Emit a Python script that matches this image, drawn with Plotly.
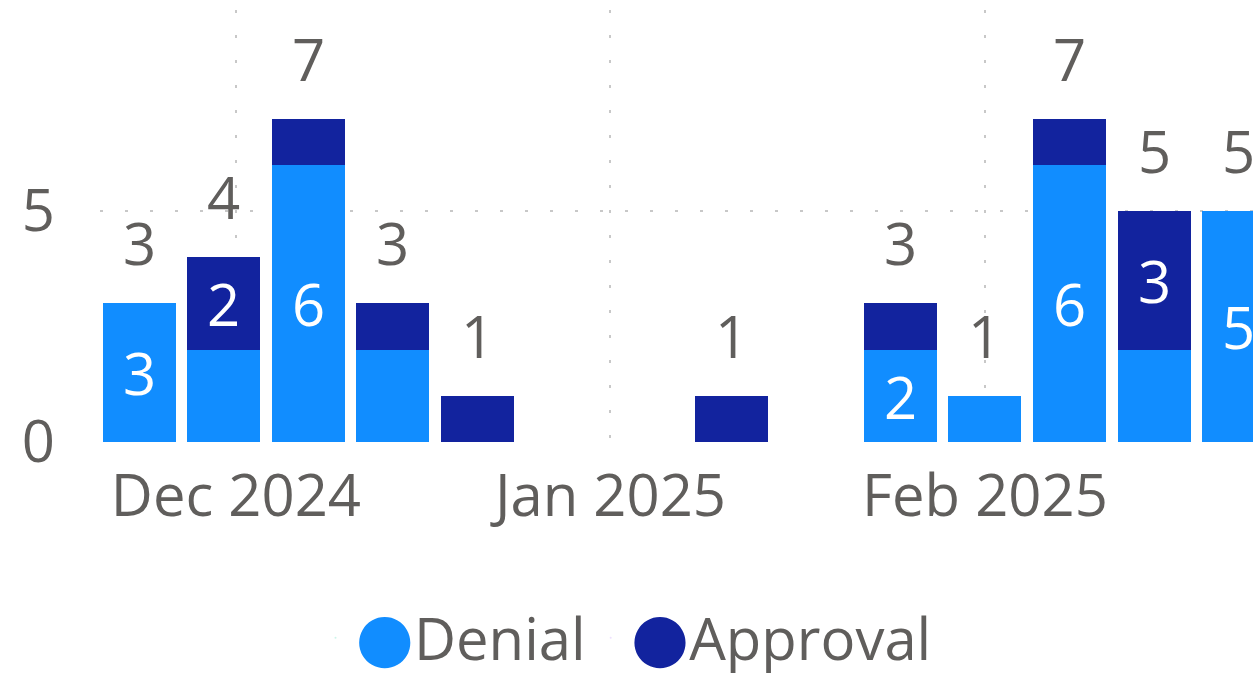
import plotly.graph_objects as go

# ---- data ----
weeks = ["2024-11-23", "2024-11-30", "2024-12-07", "2024-12-14", "2024-12-21",
         "2025-01-11", "2025-01-25", "2025-02-01", "2025-02-08", "2025-02-15", "2025-02-22"]
denial = [3, 2, 6, 2, 0, 0, 2, 1, 6, 2, 5]
approval = [0, 2, 1, 1, 1, 1, 1, 0, 1, 3, 0]
denial_labels = ["3", "", "6", "", "", "", "2", "", "6", "", "5"]
approval_labels = ["", "2", "", "", "", "", "", "", "", "3", ""]
totals = [d + a for d, a in zip(denial, approval)]
y_ticks = [0, 5]

# ---- style ----
FONT = "Open Sans, Segoe UI, sans-serif"
FS = 58
TXT = "#605E5C"
C_DEN = "#118DFF"
C_APP = "#12239E"
DAY_MS = 86400000
BAR_W = 6.04 * DAY_MS

fig = go.Figure()
fig.add_trace(go.Bar(
    x=weeks, y=denial, name="Denial", marker=dict(color=C_DEN, line=dict(width=0)), width=BAR_W,
    text=denial_labels, textposition="inside", insidetextanchor="middle",
    textangle=0, constraintext="none",
    insidetextfont=dict(family=FONT, size=FS, color="white"),
    showlegend=False, hoverinfo="skip"))
fig.add_trace(go.Bar(
    x=weeks, y=approval, name="Approval", marker=dict(color=C_APP, line=dict(width=0)), width=BAR_W,
    text=approval_labels, textposition="inside", insidetextanchor="middle",
    textangle=0, constraintext="none",
    insidetextfont=dict(family=FONT, size=FS, color="white"),
    showlegend=False, hoverinfo="skip"))

# legend entries with large round bullets
for name, col in [("Denial", C_DEN), ("Approval", C_APP)]:
    fig.add_trace(go.Scatter(
        x=[None], y=[None], mode="markers", marker=dict(opacity=0, size=1),
        name=f"<span style='font-family:DejaVu Sans;font-size:67px;color:{col}'>●</span>{name}",
        showlegend=True))

# total labels
for w, t in zip(weeks, totals):
    fig.add_annotation(x=w, y=t, text=str(t), showarrow=False, yanchor="bottom",
                       yshift=19, font=dict(family=FONT, size=FS, color=TXT))

fig.update_layout(
    width=1253, height=673,
    margin=dict(l=100, r=0, t=10, b=231, autoexpand=False),
    barmode="stack", bargap=0,
    paper_bgcolor="white", plot_bgcolor="white",
    font=dict(family=FONT, size=FS, color=TXT),
    legend=dict(orientation="h", xref="container", yref="container", traceorder="normal",
                x=0.4996, xanchor="center", y=0.1181, yanchor="top",
                font=dict(family=FONT, size=FS, color=TXT), itemwidth=30),
    xaxis=dict(type="date", range=["2024-11-19 18:00", "2025-02-23 04:30"], automargin=False,
               tick0="2024-12-01", dtick="M1", tickformat="%b %Y",
               showgrid=True, gridcolor="#C8C8C8", gridwidth=2, griddash="3px,22px",
               showline=False, zeroline=False, ticks="", ticklabelstandoff=15,
               tickfont=dict(family=FONT, size=FS, color=TXT)),
    yaxis=dict(range=[0, 9.35], tickvals=y_ticks, automargin=False,
               showgrid=True, gridcolor="#C8C8C8", gridwidth=2, griddash="3px,22px",
               showline=False, zeroline=False, ticks="", ticklabelstandoff=44,
               tickfont=dict(family=FONT, size=FS, color=TXT)),
)

fig.write_html("out.html", config={"displayModeBar": False},
               post_script="document.body.style.margin='0';document.body.style.overflow='hidden';")
